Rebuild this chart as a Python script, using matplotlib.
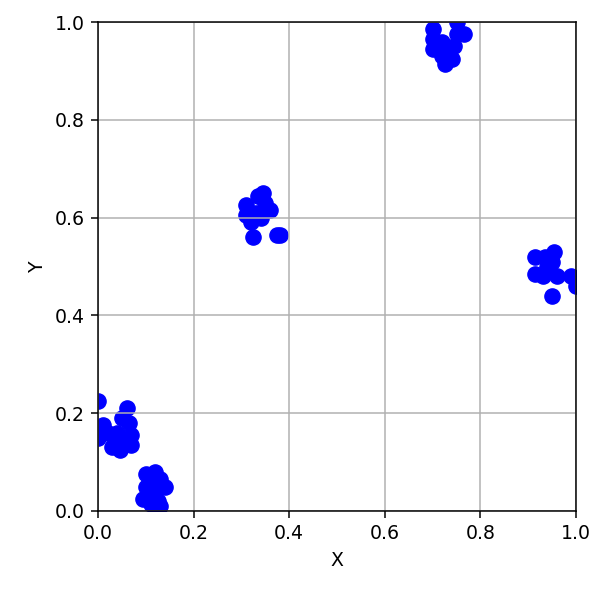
import matplotlib
matplotlib.use("Agg")
import matplotlib.pyplot as plt

# point coordinates, grouped by cluster
x_vals = [
    0.000, 0.010, 0.020, 0.000, 0.030, 0.045, 0.050, 0.060, 0.065, 0.070, 0.070, 0.040, 0.055,
    0.100, 0.120, 0.130, 0.140, 0.100, 0.095, 0.110, 0.125, 0.120, 0.110, 0.130,
    0.310, 0.310, 0.320, 0.325, 0.335, 0.345, 0.350, 0.360, 0.330, 0.340, 0.380, 0.375,
    0.700, 0.700, 0.700, 0.720, 0.725, 0.740, 0.745, 0.750, 0.750, 0.765, 0.720, 0.730,
    0.915, 0.935, 0.955, 0.950, 0.915, 0.930, 0.960, 0.990, 1.000, 0.950, 0.940,
]
y_vals = [
    0.225, 0.175, 0.160, 0.150, 0.130, 0.125, 0.190, 0.210, 0.180, 0.155, 0.135, 0.160, 0.140,
    0.075, 0.080, 0.065, 0.050, 0.050, 0.025, 0.015, 0.020, 0.040, 0.060, 0.010,
    0.625, 0.605, 0.590, 0.560, 0.645, 0.650, 0.630, 0.615, 0.610, 0.600, 0.565, 0.565,
    0.985, 0.965, 0.945, 0.930, 0.915, 0.925, 0.950, 0.975, 1.000, 0.975, 0.960, 0.940,
    0.520, 0.520, 0.530, 0.510, 0.485, 0.480, 0.480, 0.480, 0.460, 0.440, 0.500,
]

k = 1.36  # reference looks rendered at ~136 dpi, scale styles to match at 100

plt.rcParams.update({
    "font.size": 10 * k,
    "axes.linewidth": 0.8 * k,
    "grid.linewidth": 0.8 * k,
    "xtick.major.size": 3.5 * k,
    "ytick.major.size": 3.5 * k,
    "xtick.major.width": 0.8 * k,
    "ytick.major.width": 0.8 * k,
    "xtick.major.pad": 3.5 * k,
    "ytick.major.pad": 3.5 * k,
    "axes.labelpad": 4.0 * k,
})

fig = plt.figure(figsize=(5.98, 5.98), dpi=100)
ax = fig.add_axes([98 / 598, 87 / 598, 478 / 598, 489 / 598])

ax.scatter(x_vals, y_vals, s=120, color="blue")

ax.set_xlim(0, 1)
ax.set_ylim(0, 1)
ax.set_xlabel("X")
ax.set_ylabel("Y")
ax.grid(True)

fig.savefig("out.png", dpi=100)
